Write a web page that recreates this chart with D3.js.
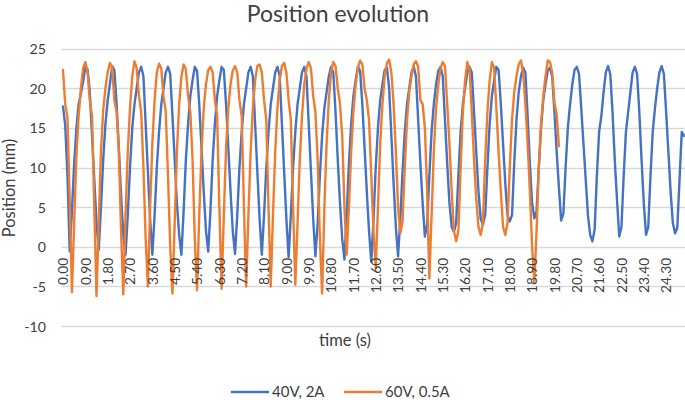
<!DOCTYPE html>
<html><head><meta charset="utf-8">
<script src="https://cdn.jsdelivr.net/npm/d3@7/dist/d3.min.js"></script>
<style>
body{margin:0;background:#fff}
text{font-family:Lato,"Open Sans",sans-serif}
</style>
</head><body>
<svg id="chart" width="685" height="400"></svg>
<script>
// ---- data ----
const title = "Position evolution";
const xTitle = "time (s)";
const yTitle = "Position (mm)";
const seriesNames = ["40V, 2A", "60V, 0.5A"];
const seriesColors = ["#4472C4", "#ED7D31"];
const yTicks = [25, 20, 15, 10, 5, 0, -5, -10];
// one label every 10 samples (samples every 0.09 s)
const tickLabels = ["0.00","0.90","1.80","2.70","3.60","4.50","5.40","6.30","7.20","8.10","9.00","9.90","10.80","11.70","12.60","13.50","14.40","15.30","16.20","17.10","18.00","18.90","19.80","20.70","21.60","22.50","23.40","24.30"];

const blue = [
17.7,15.3,9,-0.6,
4.5,10.5,15,18,19.3,20.8,22.7,22.4,19.5,14,8.5,3,-0.4,
5,11,15.5,18.5,20.5,22.8,22.3,18,12.5,6.5,1.5,-1.0,
4,10,15,18,20,22,22.7,21.5,15.5,9.5,3.5,-1.0,
4,10,14.5,18,20,22,22.7,21.8,16.5,11,5.5,1.5,-1.0,
4.5,11,15.5,19,21,22.7,22.2,18,12.5,7,2,-0.6,
4.5,11,15.5,19,21,22.7,22.3,18,12.5,7,2,-0.9,
4,10,14.5,18,20,22,22.7,21.5,15.5,9.5,3.5,-1.0,
4,10,14.5,18,20,22,22.7,21.5,15.5,9.5,3.5,-1.3,
4,10,14.5,18,20,22,22.7,21.5,15.5,9.5,3.5,-1.2,
3,9,14,17.5,19.5,21.5,22.7,22,17,11,5.5,1,-1.6,
4,10.5,15.5,19,21,22.7,22.2,18,12.5,7,2,-1.9,
3.5,10,15,18.5,20.5,22.3,22.6,20,14,8,2.5,-1.2,
3.5,9.5,14.5,18,20,22,22.7,21.5,16,10.5,5.5,1.3,
2.8,9,14.5,18,20.5,22.2,22.7,21.5,16,10.5,5.5,2.5,1.9,
3,9,14.5,18,20,22,22.7,22,17,12,7,3.5,2.8,
4,10,15.5,19,21,22.7,22.3,18,13,8,4,3.2,
4,10.5,16,19.5,21.5,22.6,22,16.5,10.5,5.5,3.6,
4.5,10,15,18.5,20.5,22.2,22.6,21.5,17,12,7.5,3.3,
4.2,10,15,18,20.5,22.3,22.7,21.8,17.5,13,8.5,4,1.5,0.7,
2.2,9,14.5,16.5,19.5,22,22.8,21.8,17,11,6,1.3,
2.5,9,14.5,17,19.5,22,22.7,21.8,17,11,5.5,1.5,
2.5,9,14.5,17.5,20,22,22.8,21.8,17,12,7,3,1.7,2.4,8.5,14.5,14
];

const orange = [
22.3,18,16.3,6,-5.7,
3,11.5,16.5,20,22.5,23.3,22,18.5,16.5,5,-6.2,
3,12,17.3,20,22,23.2,22.6,18.5,17,12,2,-6.0,
4,12,17.5,21.5,23.4,22.5,19,17,10,1,-5.0,
5,13,18.5,22,23.1,22.5,19,17,9,0,-5.9,
3,12,18,21.5,23,22.4,19,17,11,1,-5.5,
4,12,17.5,20.5,22.3,22.7,22,18.5,16.5,5,-5.3,
4,12.5,17.5,20.5,22.2,22.8,22,18.5,16.5,5,-5.0,
4,12,17.5,21,22.8,23.0,22,18.5,16,5,-5.0,
4,12,17.5,21,22.8,23.2,22,18.5,16,5,-4.8,
3,11,16.5,20.5,22.5,23.3,22.5,19,17,11,1,-5.9,
5,13,18.5,22,23.3,22.8,20,18,14,5,-1.0,
5,12,17,20.5,22.5,23.5,23,20,18.5,16,9,2,-2.7,
5,13,18,21.5,23.2,23.6,22,18,12,5,1.7,
3.2,10,16,19.5,21.5,23,23.4,22.7,18.5,18,15,7,-4.0,
4,12,17.5,20.5,22.5,23.3,22.8,18,13,7,2,0.7,
2,10,17,21,23.3,22.5,17,11,6,2.5,1.5,
3,11,17,21,23.3,22.6,17.5,12,7,2.5,1.5,
3,10,16,19.5,21.5,23.0,23.5,22,18,13,7,0,-4.5,
2,10,15.5,19,21.5,23.5,23.3,22,18.2,16.7,12.7
];

// ---- layout ----
const svg = d3.select("#chart");
const W = 685, H = 400;
const plot = {left: 63, right: 684, top: 48.6, bottom: 326.1};
const textColor = "#404040";
const gridColor = "#d9d9d9";

const x = d3.scaleLinear().domain([0, blue.length - 1]).range([plot.left, plot.right]);
const y = d3.scaleLinear().domain([-10, 25]).range([plot.bottom, plot.top]);

// gridlines
svg.append("g").selectAll("line").data(yTicks).join("line")
  .attr("x1", 61.5).attr("x2", W)
  .attr("y1", d => Math.round(y(d)) + 0.5).attr("y2", d => Math.round(y(d)) + 0.5)
  .attr("stroke", gridColor).attr("stroke-width", 1.3);

// y tick labels
const yAxis = d3.axisLeft(y).tickValues(yTicks).tickSize(0).tickPadding(0).tickFormat(d => String(d));
const gy = svg.append("g").attr("transform", "translate(46,0)").call(yAxis);
gy.select(".domain").remove();
gy.selectAll("text").attr("fill", textColor).style("font-size", "14.2px").attr("dy", "0.35em");

// series lines
const line = d3.line().x((d, i) => x(i)).y(d => y(d));
[blue, orange].forEach((s, k) => {
  svg.append("path").datum(s)
    .attr("d", line)
    .attr("fill", "none")
    .attr("stroke", seriesColors[k])
    .attr("stroke-width", 2.4)
    .attr("stroke-linejoin", "round")
    .attr("stroke-linecap", "round");
});

// x tick labels (axis crosses at 0)
const tickIdx = tickLabels.map((_, k) => k * 10);
const xAxis = d3.axisBottom(x).tickValues(tickIdx).tickSize(0).tickFormat((d, k) => tickLabels[k]);
const gx = svg.append("g").attr("transform", `translate(0,${y(0)})`).call(xAxis);
gx.select(".domain").remove();
gx.selectAll("text")
  .attr("fill", textColor)
  .style("font-size", "13.8px")
  .attr("text-anchor", "end")
  .attr("transform", "rotate(-90)")
  .attr("x", -11).attr("y", 0).attr("dy", "0.35em");

// titles
svg.append("text").attr("x", 338).attr("y", 22).attr("text-anchor", "middle")
  .attr("fill", textColor).style("font-size", "23px").text(title);
svg.append("text").attr("x", 345).attr("y", 346).attr("text-anchor", "middle")
  .attr("fill", textColor).style("font-size", "16.5px").text(xTitle);
svg.append("text").attr("transform", `translate(15,${188}) rotate(-90)`).attr("text-anchor", "middle")
  .attr("fill", textColor).style("font-size", "16.5px").text(yTitle);

// legend
const legendX = [232, 345];
seriesNames.forEach((name, k) => {
  const g = svg.append("g").attr("transform", `translate(${legendX[k]},392)`);
  g.append("line").attr("x1", 0).attr("x2", 36).attr("y1", 0).attr("y2", 0)
    .attr("stroke", seriesColors[k]).attr("stroke-width", 2.4).attr("stroke-linecap", "round");
  g.append("text").attr("x", 40).attr("y", 0).attr("dy", "0.35em")
    .attr("fill", textColor).style("font-size", "15px").text(name);
});
</script>
</body></html>
